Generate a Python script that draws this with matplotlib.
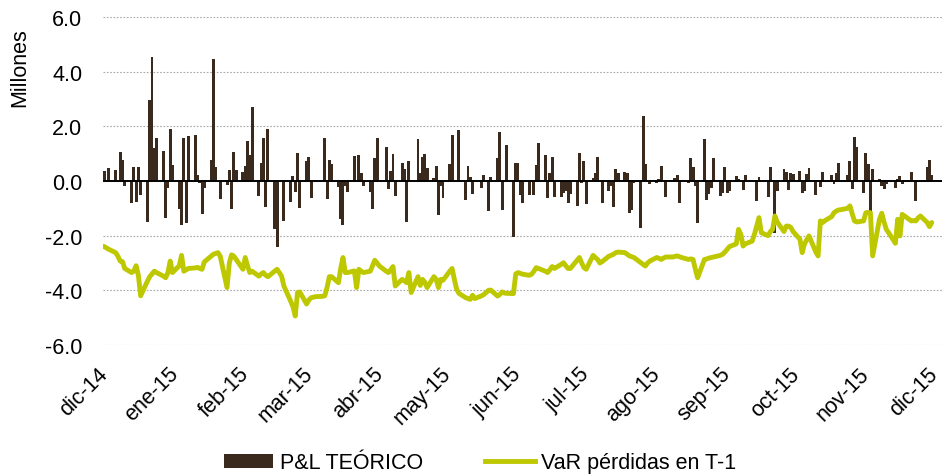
import numpy as np
import pandas as pd
import matplotlib
matplotlib.use('Agg')
import matplotlib.pyplot as plt
import matplotlib.dates as mdates
from matplotlib.patches import Patch
from matplotlib.lines import Line2D

plt.rcParams['font.family'] = ['Liberation Sans', 'DejaVu Sans']

# ---------------- data ----------------
start_date = '2014-12-01'
end_date = '2015-12-02'

# P&L teórico (millones), one row per week Mon..Fri
pnl_weeks = [
    [0, 0, 0.37, 0, 0.46],
    [0.39, 0, 1.05, 0.78, -0.20],
    [-0.80, 0.50, -0.77, 0.50, -0.50],
    [-1.49, 2.96, 4.55, 1.22, 1.57],
    [1.10, -1.35, -0.25, 1.89, 0.60],
    [-1.04, -1.62, 1.57, -1.52, 1.66],
    [1.70, 0.23, -0.06, -1.20, -0.24],
    [0.78, 4.45, 0.52, 0, -0.66],
    [-0.16, 0.39, -1.04, 1.05, 0.41],
    [0.33, 0.56, 1.45, 0.96, 2.72],
    [-0.54, 0.66, 1.59, -0.94, 1.89],
    [-1.74, -2.41, 0, 0, -1.48],
    [-0.76, 0.20, -0.39, 1.02, -0.98],
    [0.73, 0.88, -0.62, 0, 0],
    [0, 1.59, -0.66, 0.78, 0.61],
    [-0.21, -1.39, -1.61, -0.20, -0.39],
    [0.90, 0, 0.96, 0.30, -0.20],
    [-0.39, -1.01, 0.84, 1.56, 0],
    [1.26, -0.30, 0.38, 1.00, -0.56],
    [0.67, 0.45, -1.50, 0.73, 0],
    [1.55, 0.30, 0.89, 0.99, 0.48],
    [0.12, 0.55, -1.23, -0.18, -0.63],
    [0.63, 1.67, 0, 0, 1.88],
    [-0.71, 0.56, 0.15, -0.49, 0.05],
    [-0.27, 0.22, 0, -1.09, 0.16],
    [0.85, 1.79, -1.05, 0, 1.32],
    [-2.05, 0.67, 0.65, -0.50, -0.82],
    [-0.50, 0.05, -0.52, 0.57, 1.38],
    [0.94, -0.62, 0.30, 0.89, -0.57],
    [-0.60, -0.45, -0.35, -0.79, -0.48],
    [-0.91, 1.04, -0.06, 0.73, -0.84],
    [0.12, 0.30, 0.88, 0, -0.79],
    [-0.38, -0.18, -0.94, 0.45, 0.28],
    [0.33, 0.30, -1.16, -1.06, -0.08],
    [-1.73, 2.39, 0.61, 0, -0.12],
    [-0.09, 0.06, 0.55, 0, -0.57],
    [-0.05, 0.12, 0.22, -0.82, 0],
    [-0.08, 0.83, 0.50, -0.18, -1.54],
    [1.55, -0.70, -0.49, -0.24, 0.85],
    [-0.55, -0.45, 0.51, -0.43, -0.37],
    [0.18, 0.09, 0, -0.33, 0.23],
    [0, -0.05, -0.73, 0.15, 0],
    [-0.57, 0.51, 0.05, -1.89, -0.37],
    [0.44, 0.33, -0.33, 0.30, 0.26],
    [0.38, -0.45, -0.37, 0.24, 0.49],
    [-0.51, 0.03, -0.23, 0.33, 0],
    [0.22, -0.12, 0.28, 0.67, 0],
    [0.23, 0.73, -0.28, 1.61, 1.26],
    [-0.45, 1.02, 0.61, -1.90, 0.43],
    [0.06, -0.18, -0.30, -0.10, 0],
    [-0.27, 0.09, 0.18, -0.12, 0],
    [0.33, 0, -0.73, -0.05, 0],
    [0.51, 0.77, 0.22],
]

# VaR pérdidas en T-1 (millones), one row per week Mon..Fri
var_weeks = [
    [-2.36, -2.38, -2.40, -2.45, -2.50],
    [-2.62, -2.75, -2.93, -2.95, -3.20],
    [-3.35, -3.30, -3.10, -3.45, -4.20],
    [-3.66, -3.50, -3.40, -3.30, -3.35],
    [-3.48, -3.54, -3.35, -2.93, -3.35],
    [-3.10, -2.72, -3.30, -3.25, -3.20],
    [-3.18, -3.16, -3.20, -3.23, -2.96],
    [-2.75, -2.68, -2.65, -2.62, -2.75],
    [-3.90, -3.00, -2.70, -2.75, -2.87],
    [-3.23, -2.80, -3.10, -3.35, -3.30],
    [-3.48, -3.40, -3.35, -3.45, -3.50],
    [-3.30, -3.23, -3.35, -3.48, -3.84],
    [-4.40, -4.60, -4.94, -4.08, -4.06],
    [-4.50, -4.35, -4.27, -4.25, -4.23],
    [-4.22, -4.20, -3.90, -3.50, -3.50],
    [-3.72, -3.20, -2.80, -3.35, -3.35],
    [-3.29, -3.90, -3.23, -3.30, -3.35],
    [-3.30, -3.10, -2.90, -3.00, -3.11],
    [-3.30, -3.35, -3.25, -3.13, -3.84],
    [-3.60, -3.65, -3.72, -3.35, -4.08],
    [-3.50, -3.82, -3.60, -3.70, -3.90],
    [-3.50, -3.60, -3.90, -3.60, -3.63],
    [-3.30, -3.20, -3.60, -3.96, -4.11],
    [-4.27, -4.30, -4.33, -4.18, -4.30],
    [-4.20, -4.15, -4.08, -4.00, -3.99],
    [-4.21, -4.15, -4.06, -4.10, -4.11],
    [-4.12, -3.40, -3.35, -3.38, -3.41],
    [-3.45, -3.41, -3.30, -3.17, -3.20],
    [-3.30, -3.35, -3.25, -3.13, -3.20],
    [-3.05, -2.99, -3.10, -3.20, -3.20],
    [-2.90, -2.80, -3.00, -3.17, -3.23],
    [-2.72, -2.80, -2.87, -3.00, -2.95],
    [-2.75, -2.72, -2.68, -2.62, -2.60],
    [-2.62, -2.68, -2.74, -2.77, -2.80],
    [-2.99, -3.05, -3.11, -3.00, -2.93],
    [-2.80, -2.83, -2.87, -2.82, -2.78],
    [-2.78, -2.76, -2.74, -2.77, -2.80],
    [-2.87, -2.85, -2.87, -3.23, -3.54],
    [-2.87, -2.85, -2.82, -2.80, -2.78],
    [-2.72, -2.68, -2.60, -2.50, -2.40],
    [-2.30, -1.77, -1.95, -2.38, -2.30],
    [-2.20, -1.95, -1.65, -1.34, -1.89],
    [-2.00, -1.85, -1.77, -1.28, -1.50],
    [-1.85, -1.65, -1.65, -1.70, -1.85],
    [-2.13, -2.62, -2.30, -2.15, -2.01],
    [-2.60, -2.74, -1.46, -1.52, -1.45],
    [-1.30, -1.16, -1.10, -1.06, -1.05],
    [-1.00, -0.91, -1.20, -1.46, -1.50],
    [-1.46, -1.16, -1.15, -1.16, -2.74],
    [-1.40, -1.18, -1.50, -1.77, -1.89],
    [-2.28, -1.40, -2.01, -1.22, -1.28],
    [-1.46, -1.45, -1.46, -1.35, -1.28],
    [-1.52, -1.67, -1.52],
]

month_labels = ['dic-14', 'ene-15', 'feb-15', 'mar-15', 'abr-15', 'may-15',
                'jun-15', 'jul-15', 'ago-15', 'sep-15', 'oct-15', 'nov-15', 'dic-15']
y_ticks = [6.0, 4.0, 2.0, 0.0, -2.0, -4.0, -6.0]
series_labels = ['P&L TEÓRICO', 'VaR pérdidas en T-1']

# ---------------- styling ----------------
bar_color = '#3a2a1e'
line_color = '#bec800'
fs = 15.5

dates = pd.bdate_range(start_date, end_date)
pnl = np.array([v for w in pnl_weeks for v in w], dtype=float)
var = np.array([v for w in var_weeks for v in w], dtype=float)

fig = plt.figure(figsize=(9.44, 4.77), dpi=100)
ax = fig.add_axes([103 / 944, 1 - 346 / 477, (942 - 103) / 944, (346 - 18) / 477])

mask = pnl != 0
ax.bar(dates[mask], pnl[mask], width=1.3, color=bar_color, linewidth=0, zorder=2)
ax.axhline(0, color='black', lw=1.4, zorder=2.5)
ax.plot(dates, var, color=line_color, lw=3.5, solid_joinstyle='round',
        solid_capstyle='round', zorder=3)

t0 = pd.Timestamp(start_date)
ax.set_xlim(mdates.date2num(t0 + pd.Timedelta(days=1.44)),
            mdates.date2num(t0 + pd.Timedelta(days=368.2)))
ax.set_ylim(-6, 6)

month_starts = pd.date_range('2014-12-01', '2015-12-01', freq='MS')
ax.set_xticks(mdates.date2num(month_starts + pd.Timedelta(days=5.5)))
ax.set_xticklabels(month_labels, rotation=45, ha='right', fontsize=fs)
ax.set_yticks(y_ticks)
ax.set_yticklabels([f'{v:.1f}' for v in y_ticks], fontsize=fs)
ax.tick_params(axis='both', length=0)
ax.tick_params(axis='y', pad=15)
ax.tick_params(axis='x', pad=13)

ax.yaxis.grid(True, linestyle=(0, (1.5, 1.5)), color='#a8a8a8', lw=0.8)
ax.set_axisbelow(True)
for s in ax.spines.values():
    s.set_visible(False)

fig.text(20 / 944, 1 - 68 / 477, 'Millones', rotation=90, ha='center', va='center', fontsize=fs)

handles = [Patch(facecolor=bar_color, edgecolor='none'),
           Line2D([], [], color=line_color, lw=3.5)]
fig.legend(handles, series_labels, loc='center', bbox_to_anchor=(480 / 944, 1 - 464 / 477),
           ncol=2, frameon=False, fontsize=fs, handlelength=2.3, handleheight=0.6,
           handletextpad=0.3, columnspacing=2.9)

fig.savefig('out.png', dpi=100)
